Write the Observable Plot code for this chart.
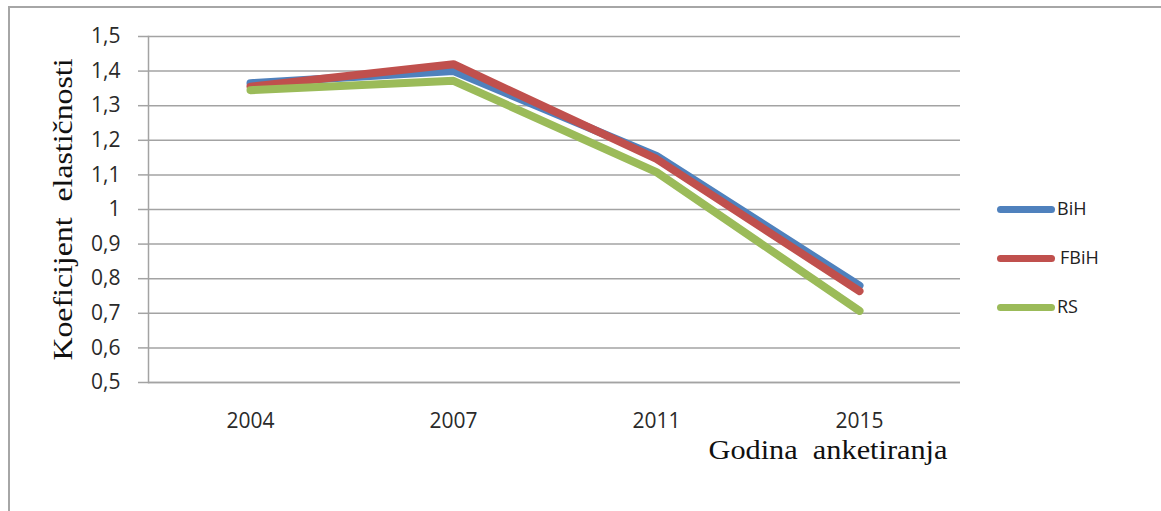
<!DOCTYPE html>
<html>
<head>
<meta charset="utf-8">
<script src="https://cdn.jsdelivr.net/npm/d3@7"></script>
<script src="https://cdn.jsdelivr.net/npm/@observablehq/plot@0.6"></script>
<style>
  html, body { margin: 0; padding: 0; background: #fff; }
  #wrap { position: relative; width: 1161px; height: 511px; overflow: hidden; }
  #border { position: absolute; left: 8px; top: 6px; width: 1170px; height: 520px;
            border-left: 2px solid #a6a6a6; border-top: 2px solid #a6a6a6; }
  #chart { position: absolute; left: 0; top: 0; }
  .leg { position: absolute; left: 997px; height: 14px; }
  .leg .sw { position: absolute; left: 0; top: 4px; width: 58px; height: 7px; border-radius: 4px; }
  .leg .lb { position: absolute; top: -6px; font: 18px "Open Sans", sans-serif; color: #222; white-space: nowrap; line-height: 24px; }
</style>
</head>
<body>
<div id="wrap">
  <div id="border"></div>
  <div id="chart"></div>
  <div id="legend"></div>
</div>
<script>
// ---- data ----
const years = ["2004", "2007", "2011", "2015"];
const seriesNames = ["BiH", "FBiH", "RS"];
const bih  = [1.365, 1.40, 1.155, 0.78];
const fbih = [1.355, 1.42, 1.146, 0.764];
const rs   = [1.345, 1.372, 1.108, 0.707];
const yTicks = [0.5, 0.6, 0.7, 0.8, 0.9, 1, 1.1, 1.2, 1.3, 1.4, 1.5];
const colors = ["#4f81bd", "#c0504d", "#9bbb59"];
const yTitle = "Koeficijent  elastičnosti";
const xTitle = "Godina  anketiranja";

const values = [bih, fbih, rs];
const rows = [];
seriesNames.forEach((s, si) => years.forEach((yr, i) => rows.push({series: s, year: yr, value: values[si][i]})));

const fmt = d => String(d).replace(".", ",");

const plot = Plot.plot({
  width: 1161,
  height: 511,
  marginLeft: 148,
  marginRight: 201,
  marginTop: 36,
  marginBottom: 129,
  style: {background: "transparent", overflow: "visible", fontFamily: "Open Sans", color: "#2a2a2a"},
  x: {type: "point", domain: years, padding: 0.5},
  y: {domain: [0.5, 1.5]},
  color: {domain: seriesNames, range: colors},
  marks: [
    Plot.gridY(yTicks, {stroke: "#a3a3a3", strokeOpacity: 1, strokeWidth: 1.5}),
    Plot.ruleY([0.5], {stroke: "#a3a3a3", strokeWidth: 1.5}),
    Plot.frame({anchor: "left", stroke: "#a3a3a3", strokeWidth: 1.5}),
    Plot.axisY(yTicks, {tickSize: 10, tickPadding: 18, tickFormat: fmt, label: null,
      stroke: "#a3a3a3", strokeWidth: 1.5, fontSize: 21, fontFamily: "Open Sans"}),
    Plot.axisX({tickSize: 0, tickPadding: 31, label: null, fontSize: 21, fontFamily: "Open Sans"}),
    Plot.line(rows, {x: "year", y: "value", z: "series", stroke: "series",
      strokeWidth: 8, strokeLinecap: "round", strokeLinejoin: "round"}),
    Plot.text([yTitle], {frameAnchor: "left", dx: -77, rotate: -90, textAnchor: "middle", lineAnchor: "bottom",
      fontSize: 28, fontFamily: "Liberation Serif", fill: "#111", className: "ytitle"}),
    Plot.text([xTitle], {frameAnchor: "bottom-right", dx: -13, dy: 76, textAnchor: "end", lineAnchor: "bottom",
      fontSize: 28, fontFamily: "Liberation Serif", fill: "#111", className: "xtitle"})
  ]
});
document.getElementById("chart").appendChild(plot);
d3.select(plot).selectAll(".ytitle text").attr("textLength", 302).attr("lengthAdjust", "spacingAndGlyphs");
d3.select(plot).selectAll(".xtitle text").attr("textLength", 239).attr("lengthAdjust", "spacingAndGlyphs");

// ---- legend ----
const legTops = [202, 251, 300];
const labelLeft = [60, 63, 60];
const legend = document.getElementById("legend");
seriesNames.forEach((s, i) => {
  const d = document.createElement("div");
  d.className = "leg";
  d.style.top = legTops[i] + "px";
  d.innerHTML = `<div class="sw" style="background:${colors[i]}"></div><div class="lb" style="left:${labelLeft[i]}px">${s}</div>`;
  legend.appendChild(d);
});
</script>
</body>
</html>
